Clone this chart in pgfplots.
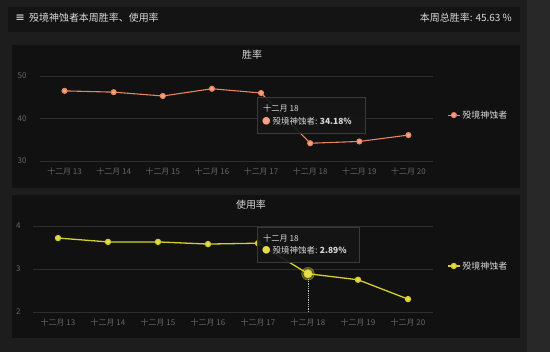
\documentclass[border=0pt]{standalone}
\usepackage{fontspec}
\setmainfont{Noto Sans CJK SC}
\usepackage{pgfplots}
\pgfplotsset{compat=1.18}
\definecolor{outerbg}{HTML}{1D1D1D}
\definecolor{rightbg}{HTML}{282828}
\definecolor{barbg}{HTML}{141414}
\definecolor{panelbg}{HTML}{111111}
\definecolor{gridc}{HTML}{2E2E2E}
\definecolor{tickc}{HTML}{666666}
\definecolor{txtc}{HTML}{D8D8D8}
\definecolor{orangeL}{HTML}{E8845E}
\definecolor{orangeM}{HTML}{F4A484}
\definecolor{yelL}{HTML}{D6CE2E}
\definecolor{yelM}{HTML}{E4DC48}
\definecolor{tipbg}{HTML}{151515}
\definecolor{tipbd}{HTML}{3A3A3A}
\pgfplotsset{
  panel/.style={
    scale only axis, anchor=south west,
    xmin=-0.5, xmax=7.5,
    xtick={0,...,7},
    xticklabels={十二月 13,十二月 14,十二月 15,十二月 16,十二月 17,十二月 18,十二月 19,十二月 20},
    axis line style={draw=none},
    major tick length=0pt,
    ymajorgrids, grid style={color=gridc, line width=0.7pt},
    tick label style={font=\fontsize{8}{9}\selectfont, color=tickc},
    /pgf/number format/assume math mode=true,
    xticklabel style={yshift=-3bp},
    clip=false,
    legend image code/.code={\draw[mark repeat=2,mark phase=2] plot coordinates {(0bp,0bp)(6bp,0bp)(12bp,0bp)};},
    legend style={draw=none, fill=none, text=txtc, font=\fontsize{9}{10}\selectfont, anchor=west, inner sep=0pt},
  }
}
\begin{document}
\begin{tikzpicture}
% backgrounds
\fill[outerbg] (0bp,0bp) rectangle (550bp,-352bp);
\fill[rightbg] (527bp,0bp) rectangle (550bp,-352bp);
\fill[barbg] (8bp,-7bp) rectangle (520bp,-32bp);
\fill[panelbg] (12bp,-45bp) rectangle (520bp,-188bp);
\fill[panelbg] (12bp,-195bp) rectangle (520bp,-338bp);
% header
\node[anchor=west, text=txtc, font=\fontsize{10}{12}\selectfont, inner sep=0pt] at (15bp,-18bp) {\textbf{≡}\hspace{4bp}殁境神蚀者本周胜率、使用率};
\node[anchor=east, text=txtc, font=\fontsize{10}{12}\selectfont, inner sep=0pt] at (512bp,-18bp) {本周总胜率: 45.63 \%};
% panel titles
\node[text=txtc, font=\fontsize{10}{12}\selectfont, inner sep=0pt] at (252bp,-55bp) {胜率};
\node[text=txtc, font=\fontsize{10}{12}\selectfont, inner sep=0pt] at (251bp,-205bp) {使用率};

% top axis
\begin{axis}[panel, at={(40bp,-161bp)}, width=393bp, height=85bp,
  ymin=30, ymax=50, ytick={30,40,50},
  yticklabel style={xshift=-10bp},
  legend style={at={(1.036,0.54)}}]
\addplot[color=orangeL, line width=1.1pt, mark=*, mark size=2.5pt,
  mark options={fill=orangeM, draw=orangeL}]
  coordinates {(0,46.5)(1,46.2)(2,45.3)(3,47.0)(4,46.0)(5,34.18)(6,34.6)(7,36.1)};
\addlegendentry{殁境神蚀者}
\end{axis}

% bottom axis
\begin{axis}[panel, at={(33bp,-312bp)}, width=400bp, height=86bp,
  ymin=2, ymax=4, ytick={2,3,4},
  yticklabel style={xshift=-9bp},
  legend style={at={(1.035,0.535)}}]
\addplot[color=white!75!black, densely dotted, line width=0.8pt, forget plot]
  coordinates {(5,2)(5,2.89)};
\addplot[color=yelL, line width=1.3pt, mark=*, mark size=2.5pt,
  mark options={fill=yelM, draw=yelL}]
  coordinates {(0,3.72)(1,3.63)(2,3.63)(3,3.58)(4,3.60)(5,2.89)(6,2.75)(7,2.30)};
\addlegendentry{殁境神蚀者}
\addplot[only marks, mark=*, mark size=6.5pt, color=yelM, opacity=0.35, forget plot]
  coordinates {(5,2.89)};
\addplot[only marks, mark=*, mark size=4.2pt, color=yelM, mark options={fill=yelM, draw=yelL}, forget plot]
  coordinates {(5,2.89)};
\end{axis}

% tooltips
\node[anchor=north west, fill=tipbg, fill opacity=0.92, text opacity=1, draw=tipbd, line width=0.6pt,
  minimum width=108bp, minimum height=36bp, inner sep=0pt] (t1) at (257bp,-97bp) {};
\node[anchor=west, text=txtc, font=\fontsize{8.2}{9}\selectfont, inner sep=0pt] at (263bp,-108bp) {十二月 18};
\node[anchor=west, text=txtc, font=\fontsize{8.5}{9}\selectfont, inner sep=0pt] at (262bp,-121bp)
  {{\color{orangeM}●}\hspace{2bp}殁境神蚀者: \textbf{34.18\%}};

\node[anchor=north west, fill=tipbg, fill opacity=0.92, text opacity=1, draw=tipbd, line width=0.6pt,
  minimum width=102bp, minimum height=35bp, inner sep=0pt] (t2) at (257bp,-227bp) {};
\node[anchor=west, text=txtc, font=\fontsize{8.2}{9}\selectfont, inner sep=0pt] at (263bp,-238bp) {十二月 18};
\node[anchor=west, text=txtc, font=\fontsize{8.5}{9}\selectfont, inner sep=0pt] at (262bp,-250bp)
  {{\color{yelM}●}\hspace{2bp}殁境神蚀者: \textbf{2.89\%}};
\end{tikzpicture}
\end{document}
